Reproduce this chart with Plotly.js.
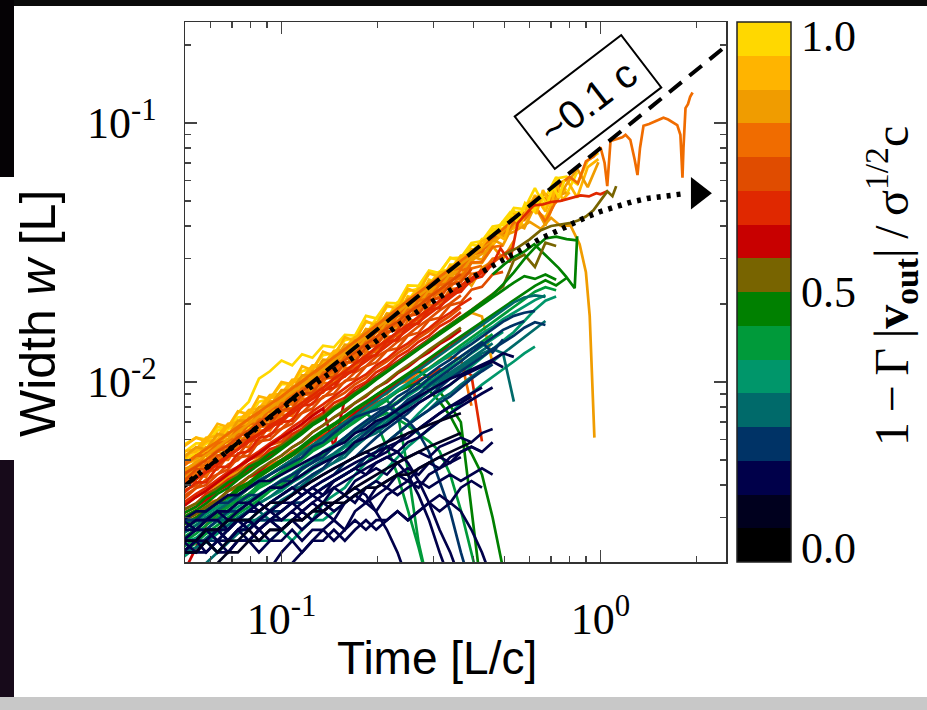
<!DOCTYPE html>
<html>
<head>
<meta charset="utf-8">
<script src="https://cdn.plot.ly/plotly-3.0.1.min.js"></script>
<style>html,body{margin:0;padding:0;background:#fff;}#plot{width:927px;height:710px;}</style>
</head>
<body>
<div id="plot"></div>
<script>
// ---------------- data (widths in units of 1e-3 L) ----------------
const TIME_GRID = [0.049,0.054,0.058,0.063,0.068,0.073,0.079,0.085,0.092,0.1,0.108,0.116,0.125,0.135,0.146,0.158,0.17,0.184,0.198,0.214,0.231,0.249,0.269,0.29,0.313,0.338,0.365,0.394,0.425,0.459,0.495,0.535,0.577,0.623,0.672,0.726,0.783,0.845,0.912,0.985];
const W_UNIT = 1e-3;

const yellowTracks = [
 {v:0.97, w:[5.7,6.1,6.0,6.7,6.6,7.6,8.4,10.3,11.0,12.1,11.6,12.8,12.4,13.8,13.6,15.2,15.1,18.0,17.6,20.2,20.1,23.6,23.5,26.9,26.3,30.2,29.3,33.9,33.4,38.9,39.2,45.2,45.6]},
 {v:0.97, w:[5.3,5.8,5.8,6.5,6.6,7.3,7.4,8.4,8.6,9.8,9.8,11.0,11.3,12.7,12.9,14.5,14.8,17.0,16.8,19.5,19.6,22.4,22.9,26.1,26.5,30.0,30.2,34.4,35.0,39.8,40.4,47.0,46.5,56.0,47.0,61.0,62.0,58.0,71.5,76.5]},
 {v:0.97, w:[5.0,5.3,5.8,5.9,6.6,6.7,7.6,7.6,8.7,8.8,10.1,10.2,11.5,11.6,13.1,13.4,15.1,15.3,17.6,17.6,20.3,20.6,23.3,23.8,26.7,27.2,30.8,31.4,35.6,36.0,41.6]},
 {v:0.97, w:[4.7,5.3,5.0,6.0,5.8,6.8,6.6,7.8,7.6,9.0,8.9,10.4,10.2,12.0,11.7,13.8,13.5,15.8,15.5,18.4,18.1,21.4,20.8,24.8,24.0,28.4,28.4,32.4,33.0,37.5,38.5,45.8,39.5,49.8,51.5,61.8,53.0,64.5]}
];
const amberTracks = [
 {v:0.91, w:[5.4,5.5,6.1,6.2,6.9,7.0,7.8,7.9,8.9,9.0,10.2,10.3,11.6,11.6,13.2,13.3,14.9,15.3,17.0,17.6,19.7,20.4,22.9,23.5,26.4,27.0,30.6,31.2,35.0,36.4]},
 {v:0.91, w:[5.0,5.6,5.3,6.3,6.0,7.0,6.9,7.9,7.8,9.2,9.1,10.5,10.4,12.1,11.8,13.9,13.4,16.0,15.5,18.4,17.9,21.3,20.8,24.7,23.6,28.2,27.3,32.6,31.8,38.0,36.9,44.4,43.6,52.6,45.5,57.6,60.5,51.5,67.5,72.5]},
 {v:0.91, w:[4.8,5.0,5.5,5.7,6.3,6.3,7.1,7.2,8.2,8.2,9.4,9.5,10.8,10.9,12.3,12.6,14.1,14.4,16.2,16.6,18.7,19.1,21.6,22.2,25.0,25.6,28.8,29.4,33.1,34.2,38.5,40.0]},
 {v:0.91, w:[5.6,6.1,5.9,6.9,6.7,7.7,7.5,8.8,8.6,10.0,9.8,11.5,11.1,13.1,12.6,14.9,14.4,17.2,16.5,19.8,19.0,22.9,22.1,26.3,25.4]},
 {v:0.91, w:[4.6,4.8,5.3,5.5,6.0,6.2,6.9,7.0,8.0,8.1,9.2,9.4,10.5,10.7,12.0,12.3,13.7,14.1,15.8,16.3,18.3,18.8,21.1,21.7,24.4,25.1,28.2,29.0,32.6,33.7,37.9,39.2,44.0,46.2,43.0,53.6,55.6]},
 {v:0.91, w:[5.2,5.4,5.9,6.0,6.8,6.8,7.6,7.7,8.7,8.8,10.0,10.0,11.4,11.4,12.9,13.1,14.7,15.0,16.9,17.2,19.3,19.9,22.4,22.6,26.0,26.2,29.9,30.2,34.6]}
];
const goldTracks = [
 {v:0.84, w:[4.4,4.9,4.7,5.6,5.4,6.4,6.2,7.3,7.1,8.4,8.2,9.7,9.4,11.2,10.7,12.9,12.4,14.8,14.3,17.1,16.6,19.8,19.2,23.0,22.2,26.6,25.6,30.6,29.6,35.5,33.8,40.8,39.2,47.8,40.2,51.9,54.0]},
 {v:0.84, w:[4.9,5.1,5.6,5.7,6.4,6.5,7.3,7.4,8.4,8.5,9.6,9.8,11.0,11.2,12.6,12.8,14.5,14.6,16.7,16.8,19.2,19.3,22.0,22.1,25.1,25.4,27.6,29.5,31.2,33.4,30.0,35.0]},
 {v:0.84, w:[4.2,4.7,4.6,5.4,5.2,6.1,6.0,7.0,6.9,8.0,7.9,9.3,9.2,10.6,10.6,12.3,12.2,14.1,14.1,16.3,16.2,18.8,18.9,21.6,21.8,25.0,25.1,28.8,28.8,33.2]},
 {v:0.84, w:[5.1,5.6,5.5,6.3,6.2,7.1,7.1,8.0,8.1,9.3,9.3,10.6,10.6,12.2,12.1,13.9,13.9,16.0,15.9,18.3,18.3,20.9,21.0,24.0,24.1,27.5,27.8,31.5,32.0,37.0,37.3,43.5,43.6,51.5,53.0,49.5,58.0,66.5,56.5,70.5]},
 {v:0.84, w:[4.5,4.9,5.0,5.5,5.7,6.3,6.5,7.2,7.5,8.3,8.6,9.5,9.9,10.9,11.4,12.5,13.1,14.4,14.9,16.5,17.3,18.9,20.0,21.9,22.8,25.0,25.9,23.5,27.6,29.2]},
 {v:0.84, w:[4.8,5.1,5.3,5.7,6.0,6.5,6.8,7.4,7.8,8.5,9.0,9.8,10.3,11.2,11.9,12.9,13.7,14.7,15.6,17.0,17.9,19.5,20.7,22.5,23.8,25.8,27.4,29.6]},
 {v:0.84, w:[3.4,3.6,3.8,4.0,4.3,4.5,4.8,5.1,5.4,5.8,6.2,6.6,7.0,7.5,8.0,8.6,9.1,9.8,10.4,11.1,11.9,12.7,13.5,14.4,15.4,16.4,17.4,18.5,17.9,11.8]}
];
const orangeTracks = [
 {v:0.78, w:[4.3,4.8,4.7,5.5,5.4,6.3,6.2,7.2,7.1,8.3,8.2,9.5,9.4,10.9,10.8,12.5,12.5,14.3,14.3,16.5,16.5,19.0,19.0,21.8,21.9,25.1,25.1,28.9,29.1,33.2,33.6]},
 {v:0.78, w:[4.6,4.7,5.3,5.4,6.0,6.0,6.9,6.9,7.9,8.0,9.1,9.2,10.3,10.5,11.9,12.1,13.6,13.8,15.6,15.9,18.0,18.2,20.6,21.0,23.7,24.1,27.0,27.6]},
 {v:0.78, w:[4.0,4.5,4.4,5.1,5.1,5.8,5.9,6.7,6.8,7.7,7.8,8.9,9.0,10.3,10.4,11.8,12.0,13.6,13.8,15.6,15.9,18.0,18.4,20.7,21.3,23.8,24.5,27.4,28.1]},
 {v:0.78, w:[4.7,5.2,5.2,5.8,5.9,6.6,6.8,7.5,7.7,8.7,8.9,10.0,10.3,11.5,11.8,13.2,13.6,15.3,15.6,17.6,18.0,20.3,20.8,23.4,24.0,27.0,27.5,31.0,31.8,35.8,36.6,41.3,42.2,47.8,41.6,50.0]},
 {v:0.78, w:[4.2,4.4,4.9,5.0,5.6,5.7,6.4,6.6,7.4,7.5,8.5,8.7,9.8,10.0,11.2,11.5,12.9,13.1,14.8,15.2,17.0,17.5,19.6,20.1,22.6,23.2,25.9,26.4]},
 {v:0.78, w:[3.9,4.4,4.3,5.0,5.0,5.7,5.6,6.5,6.5,7.5,7.4,8.6,8.6,9.9,9.9,11.3,11.4,13.0,13.1,14.9,15.1,17.2,17.4,19.8,20.0,22.8,23.1,26.1,26.6,29.9,30.5]},
 {v:0.78, w:[3.0,3.2,3.4,3.5,3.8,3.9,4.3,4.4,4.8,5.0,5.4,5.6,6.1,6.3,6.9,7.1,7.7,8.0,8.7,9.0,9.8,10.1,10.9,11.3,12.1,12.5,12.3,8.1]}
];
const redOrangeTracks = [
 {v:0.72, w:[3.8,4.0,4.5,4.6,5.2,5.2,5.9,6.0,6.8,6.9,7.8,8.0,8.9,9.1,10.3,10.5,11.8,12.1,13.5,13.9,15.5,16.0,17.8,18.5,20.5,21.3,23.5,24.4,27.0,28.2]},
 {v:0.72, w:[4.1,4.6,4.6,5.2,5.3,5.9,6.0,6.8,6.9,7.8,7.9,9.0,9.1,10.3,10.5,11.9,12.0,13.6,13.9,15.6,15.9,18.0,18.3,20.7,21.1,23.8,24.3,27.3]},
 {v:0.72, w:[3.5,3.9,4.0,4.4,4.6,5.1,5.2,5.9,6.0,6.6,6.9,7.6,7.9,8.8,9.0,10.1,10.3,11.5,11.9,13.2,13.5,15.1,15.5,17.3,17.7,19.8,20.3,22.7,23.3,26.0,26.6]},
 {v:0.72, w:[4.4,4.7,5.0,5.4,5.7,6.1,6.5,7.0,7.4,8.0,8.6,9.2,9.8,10.6,11.3,12.2,13.0,14.0,14.9,16.1,17.1,18.5,19.7,21.2,22.7,24.4,26.1]},
 {v:0.72, w:[3.6,3.9,4.2,4.4,4.8,5.0,5.5,5.8,6.3,6.6,7.2,7.6,8.3,8.7,9.5,10.0,10.9,11.5,12.5,13.2,14.3,15.2,16.4,17.5,18.9,20.1,21.6]},
 {v:0.72, w:[3.9,4.2,4.6,4.8,5.2,5.5,6.0,6.3,6.8,7.2,7.8,8.3,9.0,9.5,10.3,10.9,11.8,12.5,13.5,14.4,15.5,16.5,17.8,19.0,20.5,21.9,23.5,25.1,27.0,28.8,31.0,33.1]},
 {v:0.72, w:[3.3,3.6,3.8,4.1,4.4,4.6,5.0,5.2,5.7,5.9,6.5,6.8,7.5,7.9,8.6,9.1,9.8,10.4,11.3,12.0,12.9,13.7,14.8,15.7,16.9,18.0,19.4]}
];
const redTracks = [
 {v:0.66, w:[3.4,3.7,3.9,4.2,4.5,4.7,5.1,5.4,5.8,6.2,6.7,7.1,7.7,8.2,8.8,9.4,10.1,10.7,11.6,12.3,13.3,14.1,15.2,16.1,17.4,18.5,19.9,21.1]},
 {v:0.66, w:[3.7,4.1,4.1,4.7,4.7,5.3,5.4,6.1,6.2,7.0,7.1,8.1,8.2,9.3,9.5,10.8,11.0,12.4,12.7,14.3,14.5,16.5,16.8,19.0,19.3,21.8,22.3,24.9,25.5,28.6]},
 {v:0.66, w:[3.2,3.4,3.7,3.9,4.2,4.4,4.8,5.0,5.5,5.7,6.3,6.6,7.2,7.6,8.3,8.7,9.5,10.0,10.9,11.5,12.5,13.2,14.3,15.1,16.4,17.3,18.6]},
 {v:0.66, w:[2.8,3.0,3.2,3.4,3.6,3.8,4.1,4.3,4.6,4.9,5.2,5.5,5.9,6.2,6.6,7.0,7.4,7.8,8.3,8.7,9.2,9.6,10.2,10.6,11.2,10.8,11.4,10.6,5.9]},
 {v:0.66, w:[4.0,4.3,4.5,4.9,5.2,5.5,6.0,6.3,6.8,7.2,7.8,8.3,8.9,9.5,10.3,11.0,11.8,12.6,13.6,14.5,15.6,16.6,17.9,19.1,20.6,21.9,23.6,25.1,27.1]}
];
const crimsonTracks = [
 {v:0.59, w:[3.1,3.3,3.5,3.8,4.0,4.3,4.6,4.9,5.2,5.6,6.0,6.4,6.9,7.3,7.9,8.4,9.0,9.6,10.3,11.0,11.8,12.6,13.5,14.4,15.4,16.4,17.6,18.8,20.1]},
 {v:0.59, w:[2.9,3.1,3.3,3.5,3.8,4.0,4.3,4.5,4.9,5.2,5.6,5.9,6.4,6.8,7.3,7.7,8.3,8.8,9.5,10.0,10.8,11.4,12.3,13.0,14.0,14.8,15.9]},
 {v:0.59, w:[1.8,2.3,2.8,3.1,3.4,3.6,3.9,4.1,4.4,4.7,5.0,5.3,5.7,6.1,6.6,7.0,7.6,8.1,8.7,9.3,10.0,10.6,11.4,12.1,13.0,13.7,14.8,15.6,16.8,17.8,19.2,20.4]},
 {v:0.59, w:[3.3,3.6,3.8,4.1,4.4,4.7,5.0,5.3,5.7,6.1,6.5,6.9,7.4,7.9,5.6,8.6,9.2,9.8,10.5,11.2,12.0,12.8,13.7,14.6,15.6,16.6,17.8]}
];
const oliveTracks = [
 {v:0.53, w:[3.2,3.4,3.6,3.9,4.1,4.4,4.7,5.0,5.3,5.7,6.1,6.5,7.0,7.4,8.0,8.5,9.1,9.7,10.4,11.1,11.9,12.7,13.6,14.5,15.6,16.6,17.8,19.0,20.4,21.8,23.4,29.5,31.0,27.8,34.5,33.5]},
 {v:0.53, w:[2.9,3.1,3.3,3.5,3.8,4.0,4.3,4.6,4.9,5.2,5.6,5.9,6.4,6.8,7.3,7.8,8.3,8.9,9.5,10.1,10.9,11.6,12.4,13.3,14.2,15.2,16.2]}
];
const greenTracks = [
 {v:0.47, w:[2.5,2.7,2.9,3.1,3.3,3.5,3.7,4.0,4.2,4.5,4.8,5.1,5.4,5.8,6.2,6.6,7.1,7.5,8.0,8.6,9.2,9.6,9.9,9.3,8.4,7.4,6.2,5.3,4.4,3.0,1.9]},
 {v:0.47, w:[2.8,3.0,3.2,3.4,3.6,3.9,4.1,4.4,4.7,5.0,5.3,5.7,6.1,6.5,6.9,7.4,7.9,8.4,8.9,9.5,10.1,10.6,11.0,10.4,9.2,8.1,7.0,3.2,1.5]},
 {v:0.47, w:[3.0,3.2,3.4,3.7,3.9,4.2,4.5,4.8,5.1,5.5,5.9,6.3,6.8,7.2,7.8,8.3,8.9,9.5,10.2,10.9,11.7,12.5,13.4,14.3,15.3,16.3,17.4,18.6,19.9,21.2,22.6,24.2,25.6,25.0,26.0,24.8]},
 {v:0.47, w:[2.7,2.9,3.1,3.3,3.5,3.8,4.0,4.3,4.6,4.9,5.2,5.6,6.0,6.4,6.8,7.3,7.8,8.3,8.9,9.5,10.1,10.8,11.5,12.3,13.2,14.1,15.0,16.0,17.1,18.3,19.5,20.8,22.1,23.5,24.7,23.6,25.2]},
 {v:0.47, w:[3.1,3.3,3.6,3.8,4.1,4.3,4.7,4.9,5.3,5.6,6.0,6.4,6.9,7.3,7.9,8.4,9.0,9.6,10.3,11.0,11.8,12.6,13.5,14.4,15.5,16.5,17.7,18.9,20.3,21.7,23.8,26.5,29.8,33.0,35.8,36.4,35.6,35.2]}
];
const jadeTracks = [
 {v:0.41, w:[2.4,2.6,2.8,3.0,3.2,3.4,3.6,3.9,4.1,4.4,4.7,5.0,5.4,5.7,6.1,6.6,7.0,7.5,8.0,8.6,9.2,9.8,10.5,11.3,12.1,12.9,13.8,14.8,15.8,17.0,18.2,19.5,20.9,22.3,23.2,22.6]},
 {v:0.41, w:[2.2,2.4,2.6,2.7,2.9,3.1,3.3,3.5,3.8,4.0,4.3,4.6,4.9,5.2,5.6,6.0,6.4,6.9,7.3,7.9,8.4,9.0,9.6,10.3,11.0,11.7,12.5,13.4,14.3,15.3]},
 {v:0.41, w:[2.6,2.8,3.0,3.2,3.4,3.6,3.9,4.1,4.4,4.7,5.0,5.4,5.7,6.1,6.5,7.0,7.4,7.6,7.0,5.6,4.4,3.2,2.3,1.6]},
 {v:0.41, w:[2.5,2.7,2.9,3.1,3.3,3.5,3.7,4.0,4.2,4.5,4.8,5.1,5.5,5.8,6.2,6.6,7.1,7.5,8.0,8.5,7.6,4.6,2.4,1.6]},
 {v:0.41, w:[2.3,2.5,2.6,2.8,3.0,3.2,3.4,3.6,3.9,4.1,4.4,4.7,5.0,5.3,5.7,6.1,6.5,6.9,7.3,7.6,7.2,6.8,6.3,5.9,5.4,4.4,3.2,2.2,1.5]}
];
const seaTracks = [
 {v:0.34, w:[2.93,2.93,2.93,2.93,2.93,2.93,2.93,2.93,2.93,2.93,2.93,3.17,2.93,3.42,3.66,3.91,4.39,4.88,5.37,5.86,6.35,6.84,7.57,8.30,9.03,9.77,10.5,11.5,12.4,13.4,14.4,15.6,17.2,19.0,20.6,21.4]},
 {v:0.34, w:[2.20,2.20,2.44,2.20,2.44,2.44,2.44,2.44,2.44,2.69,2.44,2.69,2.93,2.93,3.17,3.42,3.66,3.91,4.15,4.64,5.13,5.62,6.10,6.59,7.08,7.57,8.30,9.03,9.77,10.5,11.2,12.0,12.9,13.7]},
 {v:0.34, w:[2.7,2.9,3.1,3.3,3.5,3.7,3.9,4.2,4.4,4.7,5.0,5.3,5.6,6.0,6.4,6.8,7.2,7.7,8.2,8.7,9.3,9.9,10.5,11.2,11.9,12.7,13.5,14.4,15.4,16.3,17.5,18.5,19.6,20.7,21.6]},
 {v:0.34, w:[2.4,2.5,2.7,2.9,3.1,3.3,3.5,3.7,3.9,4.2,4.4,4.7,5.0,5.4,5.7,6.1,6.5,6.9,7.3,7.8,8.3,8.8,9.4,10.0,10.7,11.4,12.1,12.9,13.7,14.6,15.6]},
 {v:0.34, w:[2.1,2.3,2.4,2.6,2.8,3.0,3.2,3.4,3.6,3.8,4.1,4.3,4.6,4.9,5.2,5.6,5.9,6.3,6.7,7.2,7.6,8.1,8.7,9.2,9.8,10.5,11.1,11.9]}
];
const tealTracks = [
 {v:0.28, w:[2.44,2.44,2.69,2.69,2.93,2.93,3.17,3.17,3.42,3.66,3.91,3.91,4.39,4.64,4.88,5.13,5.62,6.10,6.35,6.84,7.32,8.06,8.55,9.28,10.0,10.7,11.5,12.2,12.9,13.4,12.9,8.4]},
 {v:0.28, w:[2.6,2.8,3.0,3.2,3.4,3.6,3.9,4.1,4.4,4.7,5.0,5.3,5.7,6.1,6.5,7.0,7.4,8.0,8.5,9.1,9.7,10.4,11.1,11.9,12.7,13.6,14.5,15.5,16.6,17.8,19.0,20.3,21.2,21.6,21.3]},
 {v:0.28, w:[2.2,2.3,2.5,2.7,2.8,3.0,3.2,3.4,3.6,3.9,4.1,4.4,4.7,5.0,5.3,5.7,6.1,6.5,6.9,7.4,7.9,8.4,9.0,9.6,10.2,10.9,11.6,12.4,13.2,14.1]},
 {v:0.28, w:[2.93,2.93,2.93,2.93,2.93,2.93,2.93,3.17,2.93,3.17,3.42,3.42,3.66,3.91,4.15,4.39,4.64,5.13,5.37,5.86,6.35,6.84,7.32,7.81,8.55,9.03,9.77,10.5,11.2,12.0,12.9,13.9,14.9,16.0,17.2]},
 {v:0.28, s:2, w:[2.0,2.2,2.4,2.6,2.8,3.0,3.2,3.5,3.7,4.0,4.3,4.6,4.9,5.3,5.7,6.1,6.5,7.0,7.5,8.0,8.6,9.2,9.8,10.5,11.2,12.0,12.8]}
];
const blueTracks = [
 {v:0.22, w:[2.44,2.69,2.69,2.93,3.17,3.17,3.42,3.66,3.91,4.15,4.39,4.64,4.88,5.37,5.62,6.10,6.59,7.08,7.57,8.06,8.79,9.28,10.0,10.7,11.5,12.2,13.2,14.0,15.0,16.0,17.1,18.0,18.5,18.8]},
 {v:0.22, w:[2.2,2.44,2.44,2.69,2.69,2.93,3.17,3.17,3.42,3.66,3.91,4.15,4.39,4.64,5.13,5.37,5.86,6.35,6.84,7.32,7.81,8.55,9.03,9.77,10.5,11.2,12.0,13.0,13.9,14.9,15.9,16.6,17.2]},
 {v:0.22, w:[2.69,2.93,2.93,3.17,3.17,3.42,3.66,3.66,3.91,4.15,4.15,4.64,4.88,5.13,5.62,5.86,6.35,6.84,7.32,7.81,8.30,9.03,9.52,10.3,11.0,11.7,12.5,13.4,14.2,13.0,14.6]},
 {v:0.22, w:[2.2,2.2,2.44,2.44,2.44,2.69,2.69,2.93,2.93,3.17,3.42,3.42,3.66,3.91,4.15,4.39,4.64,5.13,5.37,5.86,6.35,6.84,7.32,7.81,8.30,8.79,9.52,10.3,11.0,11.7]},
 {v:0.22, w:[2.44,2.44,2.69,2.44,2.69,2.93,2.69,2.93,3.17,3.17,3.42,3.66,3.91,4.15,4.39,4.88,5.13,5.62,6.10,6.59,7.08,7.57,8.30,8.79,9.52,10.3,11.0,11.7,12.5,13.4,14.2,15.1,16.2,17.0,16.6]},
 {v:0.22, w:[2.93,2.93,3.17,3.42,3.42,3.66,3.91,4.15,4.39,4.64,4.88,5.13,5.62,5.86,6.35,6.84,7.32,7.57,7.81,8.06,7.57,7.08,6.35,5.37,4.15,3.17,2.20,1.60]}
];
const navyTracks = [
 {v:0.16, w:[2.20,2.44,2.20,2.44,2.44,2.69,2.44,2.69,2.93,2.69,2.93,3.17,2.93,3.17,3.42,3.66,3.42,3.91,4.15,3.91,4.39,4.64,4.39,4.88,5.13,4.88,5.37,5.62,5.37,5.86]},
 {v:0.16, w:[2.44,2.69,2.69,2.44,2.69,2.93,2.93,2.69,2.93,3.17,3.42,3.17,3.42,3.66,3.91,3.66,4.15,4.39,4.64,4.39,4.88,5.13,5.37,5.13,5.62,5.86,6.10,5.86,6.35,6.59]},
 {v:0.16, w:[2.20,2.20,2.44,2.20,2.20,2.44,2.44,2.69,2.44,2.69,2.93,2.69,2.93,3.17,2.93,3.42,3.66,3.42,3.91,4.15,4.39,4.15,4.64,4.88,4.64,5.13,5.37,5.62,5.37]},
 {v:0.16, w:[2.69,2.93,2.93,3.17,3.17,3.42,3.42,3.66,3.91,3.91,4.15,4.39,4.64,4.88,5.13,5.37,5.86,6.10,6.59,6.84,7.32,7.81,8.30,8.79,9.28,9.77,10.5,11.0,11.5,12.0,11.4]},
 {v:0.16, w:[2.93,2.69,2.93,3.17,2.93,3.17,3.42,3.17,3.42,3.66,3.91,3.66,3.91,4.15,4.39,4.64,4.88,5.13,5.37,5.62,5.86,6.35,6.59,7.08,7.57,8.06,8.55,9.03,9.52]},
 {v:0.16, w:[2.44,2.44,2.69,2.69,2.93,2.93,3.17,3.17,3.42,3.42,3.66,3.91,4.15,4.39,4.64,4.88,5.13,5.37,5.13,5.62,5.37,4.88,4.15,3.42,2.69,2.20,1.70]},
 {v:0.16, s:8, w:[1.9,2.20,2.44,2.20,2.44,2.69,2.93,2.69,3.17,3.42,3.17,3.66,3.91,4.15,3.91,4.39,4.64,4.88,5.13]},
 {v:0.16, w:[2.20,2.44,2.44,2.69,2.44,2.69,2.69,2.93,3.17,2.93,3.17,3.42,3.66,3.42,3.91,4.15,4.39,4.64,4.88,5.13,5.37,5.86,6.10,6.59,7.08,7.57,8.06,8.55,9.03,9.52]},
 {v:0.16, w:[2.69,2.69,2.93,2.93,2.69,2.93,3.17,3.42,3.17,3.42,3.66,3.91,3.66,3.91,4.15,4.39,4.64,4.39,4.88,5.13,4.88,4.39,3.66,2.93,2.20,1.70]},
 {v:0.16, w:[2.93,3.17,3.17,3.42,3.66,3.66,3.91,4.15,4.15,4.39,4.64,4.88,5.13,5.37,5.62,5.86,6.35,6.59,7.08,7.32,7.81,8.30,8.79,9.28,9.77,10.3,10.7,11.2,11.7,12.2,12.9,12.5]},
 {v:0.16, s:4, w:[2.20,2.44,2.44,2.69,2.93,2.69,2.93,3.17,3.42,3.17,3.42,3.66,3.91,3.66,3.17,2.69,2.20,1.70]},
 {v:0.16, w:[2.44,2.20,2.44,2.69,2.69,2.93,2.69,2.93,3.17,3.42,3.42,3.66,3.91,3.66,4.15,4.39,4.64,4.88,5.13,5.37,5.86,6.10,6.59,7.08,7.57,8.06,8.30,8.79]},
 {v:0.16, w:[2.20,2.20,2.20,2.44,2.20,2.44,2.44,2.20,2.44,2.44,2.69,2.44,2.69,2.69,2.44,2.69,2.93,2.69,2.93,2.93,3.17,2.93,3.17,3.42,3.17,3.42,3.17,2.69,2.20,1.70]},
 {v:0.16, s:10, w:[2.0,2.20,2.44,2.44,2.69,2.44,2.69,2.93,2.69,2.93,3.17,2.93,3.17,3.42,3.66,3.42,3.91,4.15,3.91]},
 {v:0.16, w:[2.44,2.44,2.69,2.69,2.44,2.69,2.93,2.69,2.93,2.93,3.17,2.93,3.17,3.42,3.17,3.42,3.66,3.42,3.66,3.91,3.66,3.91,4.15,3.91,4.15,4.39,4.15,4.39,4.64,4.39]}
];
const inkTracks = [
 {v:0.09, w:[2.20,2.20,2.44,2.20,2.44,2.44,2.69,2.44,2.69,2.69,2.93,2.93,3.17,3.17,3.42,3.42,3.66,3.91,3.91,4.15,4.39,4.39,4.64,4.88,5.13,5.37,5.62,5.86]},
 {v:0.09, s:3, w:[2.0,2.20,2.20,2.44,2.44,2.69,2.69,2.93,2.93,3.17,3.42,3.42,3.66,3.91,4.15,4.39,4.64,4.88,5.13,5.37,5.62,5.86,6.10,6.35]},
 {v:0.09, w:[2.44,2.44,2.69,2.69,2.93,2.93,2.93,3.17,3.42,3.42,3.66,3.91,4.15,4.39,4.64,4.88,5.13,5.37,5.62,5.86,6.10,6.35,6.59,6.84,7.08,7.32,7.57]}
];

// tracks with their own time samples
const longTracks = [
 {v:0.84, t:[0.049,0.063,0.079,0.1,0.125,0.158,0.198,0.249,0.313,0.394,0.459,0.535,0.6,0.65,0.7,0.75,0.805,0.86,0.9,0.925,0.94,0.957],
         w:[4.5,5.6,6.9,8.5,10.4,13.0,16.1,20.0,24.8,30.6,35.4,38.0,41.5,39.0,43.0,40.0,40.2,34.0,26.5,18.0,11.0,6.1]},
 {v:0.78, t:[0.049,0.063,0.079,0.1,0.125,0.158,0.198,0.249,0.313,0.394,0.459,0.5,0.55,0.6,0.65,0.7,0.75,0.8,0.85,0.9,0.95,1.0,1.03,1.05,1.075,1.12,1.17,1.198,1.24,1.28,1.306,1.33,1.364,1.42,1.5,1.575,1.63,1.694,1.74,1.78,1.807,1.82,1.847,1.88,1.91,1.944],
         w:[4.8,5.9,7.2,8.8,10.8,13.4,16.5,20.6,25.5,31.5,36.0,39.5,43.5,46.0,52.0,49.5,58.0,62.0,58.5,71.0,74.0,80.5,70.0,57.0,85.1,86.5,88.0,89.9,86.0,72.0,62.9,80.0,97.4,99.0,102.0,104.6,103.0,100.0,98.0,90.0,61.4,80.0,114.0,118.0,126.0,131.0]},
 {v:0.91, t:[0.42,0.46,0.5,0.53,0.56,0.6,0.63,0.66,0.7,0.73,0.76,0.8],
         w:[33.0,38.0,35.5,44.0,40.0,50.0,44.5,55.0,48.0,58.0,50.5,54.0]},
 {v:0.97, t:[0.45,0.49,0.52,0.55,0.58,0.62,0.65,0.68,0.71,0.74,0.77],
         w:[37.0,41.0,45.0,41.5,49.0,45.5,53.0,48.5,57.0,51.5,60.0]},
 {v:0.66, t:[0.049,0.063,0.079,0.1,0.125,0.158,0.198,0.249,0.313,0.394,0.459,0.486,0.52,0.55,0.58,0.617,0.66,0.7,0.75,0.8,0.866,0.92,0.97,1.0,1.05],
         w:[3.9,4.8,5.9,7.1,8.6,10.5,12.8,15.9,19.6,24.5,28.5,32.8,29.0,41.0,44.0,48.0,48.5,49.5,50.0,51.0,52.5,52.0,53.5,53.0,54.5]},
 {v:0.53, t:[0.5,0.55,0.6,0.65,0.7,0.75,0.8,0.85,0.9,0.95,1.0,1.05,1.09,1.12],
         w:[31.0,33.0,35.5,38.5,40.0,40.5,41.0,42.0,43.5,46.0,50.0,54.4,52.1,57.0]},
 {v:0.47, t:[0.459,0.5,0.54,0.58,0.62,0.66,0.70,0.74,0.78,0.81,0.83,0.845],
         w:[26.0,28.5,30.5,32.0,34.0,31.5,29.5,27.5,25.5,24.0,23.0,36.5]}
];

// reference curves
const dashedT = [0.0498, 2.474];
const dashedW = [3.98, 197.9];
const dottedT = [0.049,0.07,0.1,0.14,0.174,0.22,0.28,0.35,0.42,0.486,0.56,0.65,0.75,0.805,0.9,1.0,1.1,1.25,1.4,1.6,1.806];
const dottedW = [3.95,5.6,7.9,10.7,12.8,15.8,19.5,23.2,26.4,29.3,32.5,35.8,38.8,40.5,43.2,45.5,47.4,49.5,51.1,52.3,53.2];
const arrowT = [2.02];
const arrowW = [53.5];

// colour scale: 16 bands from 0 to 1
const palette = ['#000000','#00001e','#00004a','#003366','#006a6a','#00966a','#009a3a','#008000',
                 '#786400','#c80000','#e02800','#e04c00','#f06c00','#f09c00','#ffb400','#ffd800'];
const cbLabelVals = [0.026, 0.5, 0.974];
const cbLabelText = ['0.0', '0.5', '1.0'];
const cbTickVals = [0.25, 0.5, 0.75];
const xTickVals = [0.1, 1];
const xTickText = ['10<sup>-1</sup>', '10<sup>0</sup>'];
const xMinorVals = [0.05,0.06,0.07,0.08,0.09,0.2,0.3,0.4,0.5,0.6,0.7,0.8,0.9,2];
const yTickVals = [0.01, 0.1];
const yTickText = ['10<sup>-2</sup>', '10<sup>-1</sup>'];
const yMinorVals = [0.003,0.004,0.005,0.006,0.007,0.008,0.009,0.02,0.03,0.04,0.05,0.06,0.07,0.08,0.09,0.2];

// ---------------- build ----------------
function bandColor(v){ return palette[Math.max(0, Math.min(15, Math.floor(v*16)))]; }
function lineTrace(v, t, w){
  return {type:'scatter', mode:'lines', x:t, y:w.map(z => z*W_UNIT),
          line:{color:bandColor(v), width:2.7}, hoverinfo:'skip', showlegend:false};
}
function gridTrace(tr){
  const s = tr.s || 0;
  const t = TIME_GRID.slice(s, s + tr.w.length);
  return lineTrace(tr.v, t, tr.w.slice(0, t.length));
}
const traces = [];
[yellowTracks, amberTracks, goldTracks, orangeTracks].forEach(g => g.forEach(tr => traces.push(gridTrace(tr))));
longTracks.slice(0,4).forEach(tr => traces.push(lineTrace(tr.v, tr.t, tr.w)));
[redOrangeTracks, redTracks, crimsonTracks].forEach(g => g.forEach(tr => traces.push(gridTrace(tr))));
longTracks.slice(4).forEach(tr => traces.push(lineTrace(tr.v, tr.t, tr.w)));
[oliveTracks, greenTracks, jadeTracks, seaTracks, tealTracks, blueTracks, navyTracks, inkTracks]
  .forEach(g => g.forEach(tr => traces.push(gridTrace(tr))));

traces.push({type:'scatter', mode:'lines', x:dottedT, y:dottedW.map(z=>z*W_UNIT),
  line:{color:'#000', width:5.5, dash:'4px,6px'}, hoverinfo:'skip', showlegend:false});
traces.push({type:'scatter', mode:'lines', x:dashedT, y:dashedW.map(z=>z*W_UNIT),
  line:{color:'#000', width:4, dash:'16px,10px'}, hoverinfo:'skip', showlegend:false});
traces.push({type:'scatter', mode:'markers', x:arrowT, y:arrowW.map(z=>z*W_UNIT),
  marker:{symbol:'triangle-right', size:28, color:'#000'}, cliponaxis:false, hoverinfo:'skip', showlegend:false});

// colour bar carrier
const cscale = [];
palette.forEach((c,i) => { cscale.push([i/16, c]); cscale.push([(i+1)/16, c]); });
traces.push({type:'scatter', mode:'markers', x:[1e-6], y:[1e-6], hoverinfo:'skip', showlegend:false,
  marker:{color:[0.5], cmin:0, cmax:1, colorscale:cscale, showscale:true, size:1,
    colorbar:{x:1.0203, xanchor:'left', xpad:0, y:0.5, yanchor:'middle', ypad:0,
      len:540, lenmode:'pixels', thickness:54, thicknessmode:'pixels',
      outlinecolor:'#222', outlinewidth:1.5,
      tickmode:'array', tickvals:cbLabelVals, ticktext:cbLabelText, ticks:'',
      ticklabelstandoff:4,
      tickfont:{family:'Liberation Serif', size:44, color:'#000'}}}});

const axisCommon = {type:'log', ticks:'inside', ticklen:12, tickwidth:1.5, tickcolor:'#444',
  showline:true, linecolor:'#333', linewidth:1.5, mirror:'ticks', showgrid:false, zeroline:false,
  tickfont:{family:'Liberation Serif', size:44, color:'#000'}, ticklabelstandoff:18};

const paperX = px => (px-185)/541, paperY = py => (562-py)/540;
const darkBands = [
  {x0:0, x1:927, y0:0, y1:6, c:'#0b0b0b'},
  {x0:0, x1:14, y0:0, y1:177, c:'#050205'},
  {x0:0, x1:14, y0:460, y1:697, c:'#170a1a'},
  {x0:0, x1:927, y0:697, y1:710, c:'#c8c8c8'}
];
const shapes = darkBands.map(b => ({type:'rect', xref:'paper', yref:'paper', layer:'below',
  x0:paperX(b.x0), x1:paperX(b.x1), y0:paperY(b.y1), y1:paperY(b.y0), fillcolor:b.c, line:{width:0}}));
cbTickVals.forEach(v => {
  shapes.push({type:'line', xref:'paper', yref:'paper', x0:paperX(737), x1:paperX(745), y0:v, y1:v, line:{color:'#333', width:1.2}});
  shapes.push({type:'line', xref:'paper', yref:'paper', x0:paperX(783), x1:paperX(791), y0:v, y1:v, line:{color:'#333', width:1.2}});
});

const layout = {
  width:927, height:710, margin:{l:185, r:201, t:22, b:148, pad:0},
  paper_bgcolor:'#fff', plot_bgcolor:'#fff', showlegend:false,
  xaxis:Object.assign({}, axisCommon, {range:[-1.3025, 0.3934], tickmode:'array', tickvals:xTickVals, ticktext:xTickText,
    minor:{tickmode:'array', tickvals:xMinorVals, ticks:'inside', ticklen:6, tickwidth:1.5, tickcolor:'#444', showgrid:false}}),
  yaxis:Object.assign({}, axisCommon, {range:[-2.6946, -0.6108], tickmode:'array', tickvals:yTickVals, ticktext:yTickText,
    minor:{tickmode:'array', tickvals:yMinorVals, ticks:'inside', ticklen:6, tickwidth:1.5, tickcolor:'#444', showgrid:false}}),
  shapes:shapes,
  annotations:[
    {text:'Time [L/c]', xref:'paper', yref:'paper', x:paperX(437), y:paperY(658), xanchor:'center', yanchor:'middle',
     showarrow:false, font:{family:'Liberation Sans', size:46, color:'#000'}},
    {text:'Width <i>w</i> [L]', xref:'paper', yref:'paper', x:paperX(38), y:paperY(314), xanchor:'center', yanchor:'middle',
     textangle:-90, showarrow:false, font:{family:'Liberation Sans', size:50, color:'#000'}},
    {text:'1\u2009\u2212\u2009\u0393\u2009|<b>v</b><sub><b>out</b></sub>|\u2009/\u2009\u03c3<sup>1/2</sup>c', xref:'paper', yref:'paper',
     x:paperX(891), y:paperY(286), xanchor:'center', yanchor:'middle', textangle:-90, showarrow:false,
     font:{family:'Liberation Serif', size:48, color:'#000'}},
    {text:'~0.1 c', xref:'paper', yref:'paper', x:paperX(588), y:paperY(102), xanchor:'center', yanchor:'middle',
     textangle:-37.4, showarrow:false, width:112, height:44, borderpad:10, bordercolor:'#000', borderwidth:2,
     bgcolor:'#fff', font:{family:'Liberation Sans', size:40, color:'#000'}}
  ]
};

Plotly.newPlot('plot', traces, layout, {staticPlot:true, displayModeBar:false});
</script>
</body>
</html>
